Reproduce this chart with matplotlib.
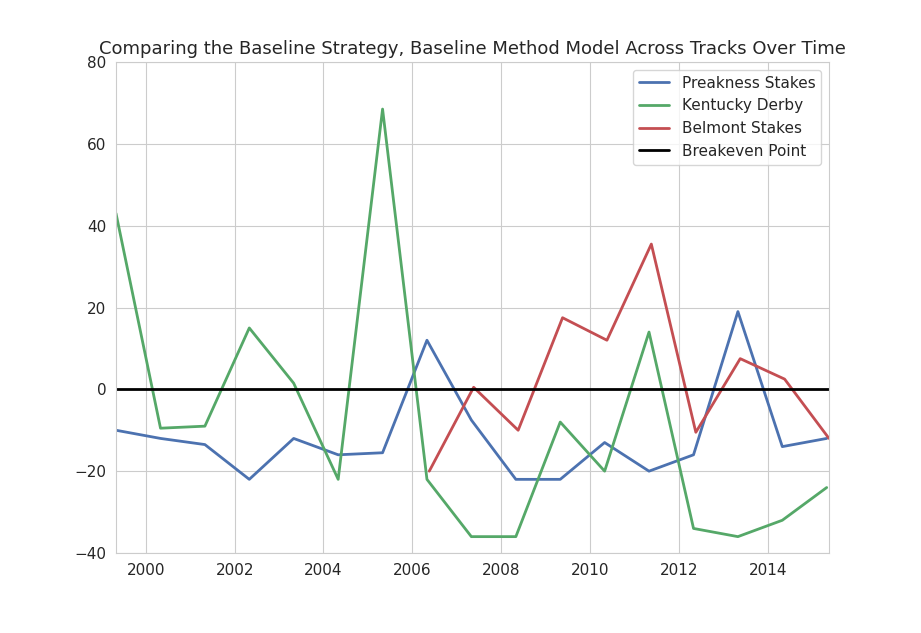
import matplotlib
matplotlib.use("Agg")
import matplotlib.pyplot as plt
import matplotlib.dates as mdates
import seaborn as sns
import datetime as dt

years = list(range(1999, 2016))
preakness = [-10, -12, -13.5, -22, -12, -16, -15.5, 12, -7.5, -22, -22, -13, -20, -16, 19, -14, -12]
kentucky = [43, -9.5, -9, 15, 1.5, -22, 68.5, -22, -36, -36, -8, -20, 14, -34, -36, -32, -24]
belmont_years = list(range(2006, 2016))
belmont = [-20, 0.5, -10, 17.5, 12, 35.5, -10.5, 7.5, 2.5, -12]

sns.set_style("whitegrid")
plt.rcParams['font.family'] = ['DejaVu Sans']
fig = plt.figure(figsize=(9.21, 6.33), dpi=100)
ax = fig.add_axes([116/921, 1-553/633, (829-116)/921, (553-62)/633])

kd = [dt.datetime(y, 5, 1) for y in years]
pk = [dt.datetime(y, 5, 1) for y in years]
bd = [dt.datetime(y, 5, 20) for y in belmont_years]
ax.plot(pk, preakness, color="#4C72B0", lw=2, label="Preakness Stakes")
ax.plot(kd, kentucky, color="#55A868", lw=2, label="Kentucky Derby")
ax.plot(bd, belmont, color="#C44E52", lw=2, label="Belmont Stakes")
ax.axhline(0, color="black", lw=2, label="Breakeven Point")
ax.set_xlim(kd[0], bd[-1])
ax.set_ylim(-40, 80)
ax.xaxis.set_major_locator(mdates.YearLocator(2, month=1, day=1))
ax.xaxis.set_major_formatter(mdates.DateFormatter("%Y"))
ax.tick_params(labelsize=11)
ax.set_title("Comparing the Baseline Strategy, Baseline Method Model Across Tracks Over Time", fontsize=13)
ax.legend(loc="upper right", fontsize=11)
fig.savefig("out.png", dpi=100)
